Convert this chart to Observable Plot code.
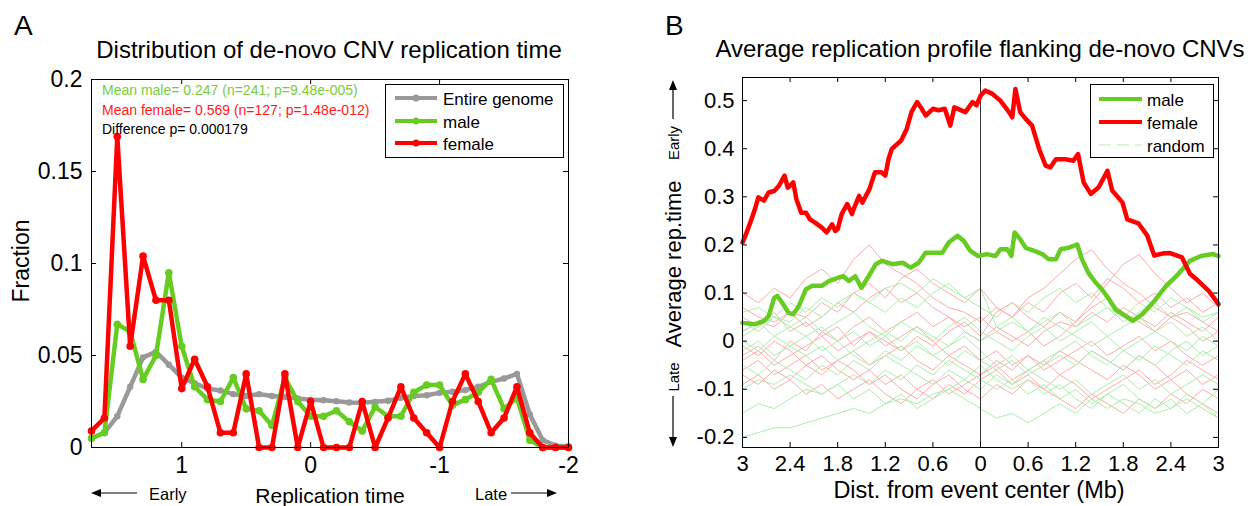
<!DOCTYPE html>
<html>
<head>
<meta charset="utf-8">
<script src="https://cdn.jsdelivr.net/npm/d3@7"></script>
<script src="https://cdn.jsdelivr.net/npm/@observablehq/plot@0.6"></script>
<style>
  html, body { margin: 0; padding: 0; background: #fff; }
  #wrap { position: relative; width: 1255px; height: 506px; overflow: hidden; background: #fff; }
  #pa { position: absolute; left: 0; top: 0; }
  #pb { position: absolute; left: 627px; top: 0; }
  #ov { position: absolute; left: 0; top: 0; pointer-events: none; }
  #ov text { font-family: 'Liberation Sans', Arial, Helvetica, sans-serif; }
</style>
</head>
<body>
<div id="wrap">
  <div id="pa"></div>
  <div id="pb"></div>
  <svg id="ov" width="1255" height="506">
    <!-- panel letters and titles -->
    <text x="14" y="35" font-size="28">A</text>
    <text x="665" y="35" font-size="28">B</text>
    <text x="329" y="58" font-size="24" text-anchor="middle">Distribution of de-novo CNV replication time</text>
    <text x="980" y="57" font-size="24" text-anchor="middle">Average replication profile flanking de-novo CNVs</text>
    <!-- panel A axis labels -->
    <text transform="translate(29,261) rotate(-90)" font-size="23" text-anchor="middle">Fraction</text>
    <text x="330" y="503" font-size="21" text-anchor="middle">Replication time</text>
    <text x="149" y="500" font-size="16.5">Early</text>
    <text x="475" y="500" font-size="16.5">Late</text>
    <line x1="137" y1="493" x2="98" y2="493" stroke="#000" stroke-width="1.2"/>
    <polygon points="91,493 101,489 101,497" fill="#000"/>
    <line x1="511" y1="493" x2="550" y2="493" stroke="#000" stroke-width="1.2"/>
    <polygon points="557,493 547,489 547,497" fill="#000"/>
    <!-- panel A annotations -->
    <text x="102" y="95" font-size="14" fill="#7acc3c">Mean male= 0.247 (n=241; p=9.48e-005)</text>
    <text x="102" y="115" font-size="14" fill="#ff1a1a">Mean female= 0.569 (n=127; p=1.48e-012)</text>
    <text x="102" y="134" font-size="14" fill="#000">Difference p= 0.000179</text>
    <!-- panel A legend -->
    <rect x="385.5" y="84.5" width="178" height="73" fill="#fff" stroke="#000" stroke-width="1"/>
    <line x1="395" y1="98" x2="437" y2="98" stroke="#999999" stroke-width="4"/>
    <circle cx="416" cy="98" r="3.5" fill="#999999"/>
    <line x1="395" y1="121" x2="437" y2="121" stroke="#66cc22" stroke-width="4"/>
    <circle cx="416" cy="121" r="3.5" fill="#66cc22"/>
    <line x1="395" y1="143" x2="437" y2="143" stroke="#ff0000" stroke-width="4"/>
    <circle cx="416" cy="143" r="3.5" fill="#ff0000"/>
    <text x="443" y="105" font-size="17">Entire genome</text>
    <text x="443" y="128" font-size="17">male</text>
    <text x="443" y="150" font-size="17">female</text>
    <!-- panel B axis labels -->
    <text transform="translate(681,264) rotate(-90)" font-size="22" text-anchor="middle">Average rep.time</text>
    <text transform="translate(679,143) rotate(-90)" font-size="15" text-anchor="middle">Early</text>
    <text transform="translate(679,377) rotate(-90)" font-size="15" text-anchor="middle">Late</text>
    <line x1="673" y1="119" x2="673" y2="88" stroke="#000" stroke-width="1.2"/>
    <polygon points="673,80 669,90 677,90" fill="#000"/>
    <line x1="673" y1="396" x2="673" y2="439" stroke="#000" stroke-width="1.2"/>
    <polygon points="673,447 669,437 677,437" fill="#000"/>
    <text x="979" y="498" font-size="23.5" text-anchor="middle">Dist. from event center (Mb)</text>
    <!-- panel B legend -->
    <rect x="1090.5" y="84.5" width="123" height="73" fill="#fff" stroke="#000" stroke-width="1"/>
    <line x1="1099" y1="99" x2="1142" y2="99" stroke="#66cc22" stroke-width="4"/>
    <line x1="1099" y1="122" x2="1142" y2="122" stroke="#ff0000" stroke-width="4"/>
    <line x1="1099" y1="145" x2="1142" y2="145" stroke="#b0f0b0" stroke-width="1.2" stroke-dasharray="12,6"/>
    <text x="1147" y="106" font-size="17">male</text>
    <text x="1147" y="129" font-size="17">female</text>
    <text x="1147" y="152" font-size="17">random</text>
  </svg>
</div>
<script>
// ---------- Panel A data ----------
const aX = [1.7,1.6,1.5,1.4,1.3,1.2,1.1,1.0,0.9,0.8,0.7,0.6,0.5,0.4,0.3,0.2,0.1,0.0,-0.1,-0.2,-0.3,-0.4,-0.5,-0.6,-0.7,-0.8,-0.9,-1.0,-1.1,-1.2,-1.3,-1.4,-1.5,-1.6,-1.7,-1.8,-1.9,-2.0];
const aGenome = [0.005,0.008,0.017,0.033,0.049,0.052,0.045,0.038,0.035,0.032,0.031,0.029,0.028,0.029,0.028,0.0275,0.0266,0.026,0.0257,0.0252,0.0245,0.0243,0.0248,0.0254,0.027,0.028,0.0284,0.0297,0.0303,0.0312,0.033,0.0357,0.0375,0.040,0.018,0.004,0.001,0.0007];
const aMale = [0.005,0.008,0.067,0.063,0.037,0.050,0.095,0.055,0.033,0.026,0.025,0.038,0.021,0.020,0.012,0.038,0.025,0.017,0.017,0.020,0.014,0.009,0.022,0.017,0.017,0.030,0.034,0.034,0.023,0.026,0.030,0.037,0.021,0.027,0.004,0,0,0];
const aFemale = [0.009,0.016,0.169,0.055,0.104,0.080,0.080,0.032,0.048,0.033,0.008,0.008,0.040,0,0,0.040,0,0.025,0,0,0,0.025,0,0.016,0.033,0.016,0.008,0,0.025,0.040,0.025,0.008,0.016,0.033,0.008,0,0,0];
const aXTicks = [1, 0, -1, -2];
const aYTicks = [0, 0.05, 0.1, 0.15, 0.2];

// ---------- Panel B data ----------
const bFemaleX = [-3.0,-2.95,-2.9,-2.85,-2.8,-2.73,-2.67,-2.6,-2.54,-2.47,-2.43,-2.4,-2.36,-2.32,-2.26,-2.2,-2.15,-2.09,-2.0,
  -1.94,-1.87,-1.83,-1.8,-1.75,-1.68,-1.62,-1.6,-1.53,-1.49,-1.4,-1.33,-1.25,-1.2,-1.16,-1.12,-1.0,
  -0.93,-0.87,-0.8,-0.74,-0.69,-0.6,-0.53,-0.45,-0.38,-0.33,-0.19,-0.1,-0.05,0.0,
  0.06,0.15,0.25,0.36,0.4,0.44,0.5,0.57,0.65,0.74,0.82,0.88,0.95,
  1.07,1.17,1.23,1.3,1.39,1.49,1.6,1.66,1.79,1.85,1.99,
  2.1,2.19,2.29,2.39,2.54,2.64,2.74,2.88,3.0];
const bFemaleY = [0.205,0.225,0.247,0.271,0.299,0.292,0.309,0.312,0.323,0.344,0.319,0.323,0.330,0.295,0.267,0.267,0.253,0.247,0.236,
  0.226,0.243,0.229,0.233,0.264,0.285,0.264,0.274,0.302,0.288,0.316,0.351,0.351,0.344,0.378,0.399,0.417,
  0.441,0.476,0.497,0.483,0.469,0.483,0.480,0.483,0.448,0.486,0.476,0.497,0.490,0.510,
  0.521,0.514,0.500,0.476,0.465,0.524,0.476,0.462,0.448,0.399,0.365,0.361,0.378,
  0.378,0.375,0.389,0.330,0.306,0.320,0.354,0.313,0.288,0.253,0.245,
  0.220,0.178,0.182,0.183,0.174,0.140,0.126,0.104,0.077];
const bMaleX = [-3.0,-2.85,-2.73,-2.67,-2.6,-2.56,-2.5,-2.42,-2.36,-2.29,-2.2,-2.12,-2.0,
  -1.91,-1.79,-1.73,-1.66,-1.58,-1.5,-1.41,-1.32,-1.24,-1.11,-0.98,
  -0.88,-0.78,-0.69,-0.57,-0.48,-0.4,-0.29,-0.21,-0.13,-0.03,
  0.08,0.19,0.25,0.34,0.39,0.43,0.5,0.57,0.67,0.78,0.86,0.95,
  1.01,1.11,1.22,1.28,1.36,1.45,1.53,1.62,1.7,1.83,1.92,
  2.04,2.19,2.34,2.49,2.64,2.78,2.93,3.0];
const bMaleY = [0.038,0.035,0.042,0.052,0.090,0.094,0.080,0.059,0.056,0.073,0.108,0.115,0.115,
  0.125,0.132,0.135,0.125,0.135,0.111,0.135,0.160,0.167,0.160,0.163,
  0.153,0.163,0.184,0.184,0.184,0.205,0.219,0.208,0.188,0.177,
  0.181,0.177,0.191,0.191,0.177,0.226,0.212,0.194,0.188,0.181,0.170,0.170,
  0.191,0.194,0.201,0.170,0.142,0.122,0.108,0.087,0.066,0.052,0.042,
  0.056,0.083,0.115,0.139,0.167,0.177,0.181,0.177];

const rX = [-3,-2.8,-2.6,-2.4,-2.2,-2,-1.8,-1.6,-1.4,-1.2,-1,-0.8,-0.6,-0.4,-0.2,0,0.2,0.4,0.6,0.8,1,1.2,1.4,1.6,1.8,2,2.2,2.4,2.6,2.8,3];
const randomFemale = [
  [0.10,0.08,0.11,0.09,0.13,0.15,0.12,0.17,0.20,0.16,0.14,0.12,0.09,0.07,0.06,0.04,0.07,0.05,0.09,0.11,0.14,0.17,0.19,0.15,0.12,0.10,0.07,0.05,0.06,0.04,0.02],
  [0.02,0.04,0.03,0.06,0.05,0.08,0.06,0.10,0.12,0.09,0.13,0.15,0.12,0.10,0.08,0.11,0.07,0.05,0.08,0.06,0.10,0.12,0.09,0.13,0.11,0.08,0.10,0.07,0.09,0.06,0.08],
  [-0.03,-0.01,-0.04,0.00,-0.02,0.02,0.00,0.03,0.05,0.02,0.04,0.06,0.03,0.05,0.02,0.00,0.03,0.01,-0.01,0.02,0.04,0.03,0.06,0.04,0.07,0.05,0.03,0.06,0.04,0.02,0.05],
  [-0.06,-0.04,-0.07,-0.05,-0.03,-0.06,-0.04,-0.02,-0.05,-0.03,-0.01,-0.04,-0.06,-0.03,-0.05,-0.07,-0.05,-0.08,-0.06,-0.04,-0.07,-0.05,-0.02,-0.04,-0.06,-0.03,-0.05,-0.08,-0.06,-0.09,-0.07],
  [-0.09,-0.07,-0.10,-0.08,-0.11,-0.09,-0.12,-0.10,-0.08,-0.11,-0.13,-0.10,-0.12,-0.09,-0.11,-0.08,-0.06,-0.09,-0.07,-0.10,-0.12,-0.14,-0.11,-0.13,-0.15,-0.12,-0.14,-0.11,-0.13,-0.10,-0.12],
  [0.05,0.03,0.06,0.02,0.04,0.01,0.03,-0.01,0.02,0.00,-0.02,0.01,-0.01,0.02,0.04,0.01,0.06,0.08,0.05,0.03,0.06,0.04,0.07,0.09,0.06,0.04,0.02,0.05,0.03,0.00,0.02],
  [-0.01,-0.03,0.00,-0.02,-0.05,-0.03,-0.06,-0.08,-0.06,-0.09,-0.07,-0.10,-0.08,-0.11,-0.09,-0.07,-0.04,-0.06,-0.03,-0.05,-0.02,-0.04,-0.06,-0.08,-0.05,-0.07,-0.10,-0.08,-0.11,-0.13,-0.15],
  [-0.04,-0.02,-0.05,-0.03,-0.01,0.01,-0.02,0.00,0.02,-0.01,0.01,0.03,0.00,-0.03,-0.01,-0.04,-0.02,-0.05,-0.03,-0.06,-0.04,-0.02,0.00,-0.03,-0.01,0.01,-0.02,0.00,-0.03,-0.05,-0.03],
  [0.07,0.05,0.04,0.06,0.03,0.05,0.08,0.06,0.09,0.11,0.08,0.10,0.07,0.05,0.03,0.05,0.02,0.00,0.02,-0.01,0.01,0.04,0.08,0.12,0.16,0.18,0.14,0.11,0.08,0.10,0.07],
  [-0.07,-0.09,-0.06,-0.08,-0.05,-0.07,-0.04,-0.06,-0.09,-0.07,-0.10,-0.12,-0.09,-0.07,-0.10,-0.12,-0.09,-0.11,-0.08,-0.10,-0.07,-0.09,-0.12,-0.10,-0.08,-0.06,-0.09,-0.07,-0.04,-0.06,-0.08]
];
const randomMale = [
  [-0.20,-0.19,-0.18,-0.18,-0.17,-0.16,-0.15,-0.14,-0.15,-0.13,-0.12,-0.13,-0.11,-0.10,-0.12,-0.14,-0.16,-0.15,-0.17,-0.15,-0.13,-0.15,-0.12,-0.14,-0.12,-0.13,-0.15,-0.14,-0.12,-0.14,-0.16],
  [0.06,0.07,0.05,0.08,0.06,0.09,0.07,0.10,0.08,0.11,0.12,0.10,0.13,0.11,0.09,0.07,0.05,0.08,0.06,0.09,0.11,0.08,0.10,0.07,0.05,0.08,0.06,0.09,0.07,0.05,0.06],
  [0.02,0.04,0.01,0.03,0.05,0.02,0.04,0.06,0.03,0.01,0.04,0.02,0.00,0.03,0.05,0.02,0.00,-0.02,0.01,0.03,0.00,0.02,0.04,0.01,0.03,0.05,0.02,0.04,0.01,0.03,0.00],
  [-0.02,0.00,-0.03,-0.01,0.01,-0.02,0.00,-0.03,-0.05,-0.02,-0.04,-0.01,-0.03,-0.05,-0.02,-0.04,-0.06,-0.04,-0.07,-0.05,-0.03,-0.05,-0.02,-0.04,-0.06,-0.03,-0.05,-0.02,0.00,-0.03,-0.01],
  [-0.10,-0.08,-0.09,-0.07,-0.09,-0.11,-0.09,-0.12,-0.10,-0.13,-0.11,-0.14,-0.12,-0.10,-0.08,-0.10,-0.07,-0.09,-0.06,-0.08,-0.10,-0.08,-0.11,-0.09,-0.07,-0.10,-0.08,-0.11,-0.09,-0.07,-0.09],
  [0.04,0.02,0.05,0.03,0.01,0.03,0.00,0.02,-0.01,0.01,-0.02,0.00,-0.03,-0.01,0.01,-0.02,-0.05,-0.03,-0.06,-0.04,-0.02,0.00,-0.03,-0.05,-0.02,-0.04,-0.01,-0.03,-0.05,-0.02,-0.04],
  [-0.05,-0.07,-0.04,-0.06,-0.08,-0.05,-0.07,-0.04,-0.06,-0.03,-0.05,-0.07,-0.09,-0.06,-0.08,-0.05,-0.08,-0.10,-0.08,-0.11,-0.09,-0.12,-0.14,-0.11,-0.13,-0.15,-0.12,-0.14,-0.11,-0.13,-0.10],
  [0.01,0.03,0.05,0.04,0.07,0.05,0.08,0.10,0.08,0.06,0.09,0.07,0.10,0.12,0.09,0.11,0.03,0.05,0.02,0.04,0.06,0.03,0.05,0.07,0.04,0.06,0.08,0.05,0.07,0.04,0.06],
  [-0.15,-0.13,-0.14,-0.12,-0.10,-0.11,-0.09,-0.07,-0.09,-0.06,-0.08,-0.05,-0.07,-0.04,-0.06,-0.08,-0.10,-0.08,-0.11,-0.09,-0.12,-0.10,-0.13,-0.11,-0.09,-0.12,-0.14,-0.12,-0.15,-0.13,-0.16],
  [0.00,-0.02,0.01,-0.01,-0.03,-0.01,-0.04,-0.02,0.00,0.02,0.00,0.03,0.01,-0.01,0.02,0.00,0.02,0.04,0.02,0.05,0.03,0.01,-0.01,0.01,-0.02,0.00,0.02,0.00,-0.02,0.01,-0.01]
];
const bXTicks = [-3,-2.4,-1.8,-1.2,-0.6,0,0.6,1.2,1.8,2.4,3];
const bXTickLabels = ["3","2.4","1.8","1.2","0.6","0","0.6","1.2","1.8","2.4","3"];
const bYTicks = [-0.2,-0.1,0,0.1,0.2,0.3,0.4,0.5];

// ---------- helpers / styles ----------
const FONT = "'Liberation Sans', Arial, Helvetica, sans-serif";
const GRAY = "#999999", GREEN = "#66cc22", RED = "#ff0000";
const RPINK = "#ffaaaa", RGREEN = "#aaeeaa";

function innerTicks(xt, yt, fw, fh, len) {
  return [
    Plot.ruleX(xt, {x: d => d, insetTop: fh - len, stroke: "#000"}),
    Plot.ruleX(xt, {x: d => d, insetBottom: fh - len, stroke: "#000"}),
    Plot.ruleY(yt, {y: d => d, insetRight: fw - len, stroke: "#000"}),
    Plot.ruleY(yt, {y: d => d, insetLeft: fw - len, stroke: "#000"})
  ];
}

// ---------- Panel A ----------
const A = {w: 627, h: 506, ml: 91, mr: 59, mt: 79, mb: 59};
const aRows = (vals) => aX.map((x, i) => ({x, v: vals[i]}));
const plotA = Plot.plot({
  width: A.w, height: A.h,
  marginLeft: A.ml, marginRight: A.mr, marginTop: A.mt, marginBottom: A.mb,
  style: {fontFamily: FONT, fontSize: "23px", color: "#000", background: "transparent", overflow: "visible"},
  x: {domain: [1.7, -2], ticks: aXTicks, tickFormat: d => String(d), tickSize: 0, tickPadding: 9, label: null},
  y: {domain: [0, 0.2], ticks: aYTicks, tickFormat: d => String(d), tickSize: 0, tickPadding: 9, label: null},
  marks: [
    ...innerTicks(aXTicks, aYTicks, A.w - A.ml - A.mr, A.h - A.mt - A.mb, 5),
    Plot.line(aRows(aGenome), {x: "x", y: "v", stroke: GRAY, strokeWidth: 4.5}),
    Plot.dot(aRows(aGenome), {x: "x", y: "v", fill: GRAY, r: 3.2}),
    Plot.line(aRows(aMale), {x: "x", y: "v", stroke: GREEN, strokeWidth: 4.5}),
    Plot.dot(aRows(aMale), {x: "x", y: "v", fill: GREEN, r: 3.8}),
    Plot.line(aRows(aFemale), {x: "x", y: "v", stroke: RED, strokeWidth: 4.5}),
    Plot.dot(aRows(aFemale), {x: "x", y: "v", fill: RED, r: 3.8}),
    Plot.frame({stroke: "#000", strokeWidth: 1})
  ]
});
document.getElementById("pa").appendChild(plotA);

// ---------- Panel B ----------
const B = {w: 628, h: 506, ml: 115, mr: 37, mt: 77, mb: 59};
const randRows = (sets, group) => sets.flatMap((arr, k) => rX.map((x, i) => ({x, v: arr[i], k: group + k})));
const plotB = Plot.plot({
  width: B.w, height: B.h,
  marginLeft: B.ml, marginRight: B.mr, marginTop: B.mt, marginBottom: B.mb,
  style: {fontFamily: FONT, fontSize: "22px", color: "#000", background: "transparent", overflow: "visible"},
  x: {domain: [-3, 3], ticks: bXTicks, tickFormat: d => bXTickLabels[bXTicks.indexOf(d)], tickSize: 0, tickPadding: 8, label: null},
  y: {domain: [-0.221, 0.548], ticks: bYTicks, tickFormat: d => String(d), tickSize: 0, tickPadding: 8, label: null},
  marks: [
    Plot.line(randRows(randomFemale, "f"), {x: "x", y: "v", z: "k", stroke: RPINK, strokeWidth: 1}),
    Plot.line(randRows(randomMale, "m"), {x: "x", y: "v", z: "k", stroke: RGREEN, strokeWidth: 1}),
    Plot.ruleX([0], {stroke: "#333", strokeWidth: 1}),
    ...innerTicks(bXTicks, bYTicks, B.w - B.ml - B.mr, B.h - B.mt - B.mb, 5),
    Plot.line(bMaleX.map((x, i) => ({x, v: bMaleY[i]})), {x: "x", y: "v", stroke: GREEN, strokeWidth: 4.5}),
    Plot.line(bFemaleX.map((x, i) => ({x, v: bFemaleY[i]})), {x: "x", y: "v", stroke: RED, strokeWidth: 4.5}),
    Plot.frame({stroke: "#000", strokeWidth: 1})
  ]
});
document.getElementById("pb").appendChild(plotB);
</script>
</body>
</html>
